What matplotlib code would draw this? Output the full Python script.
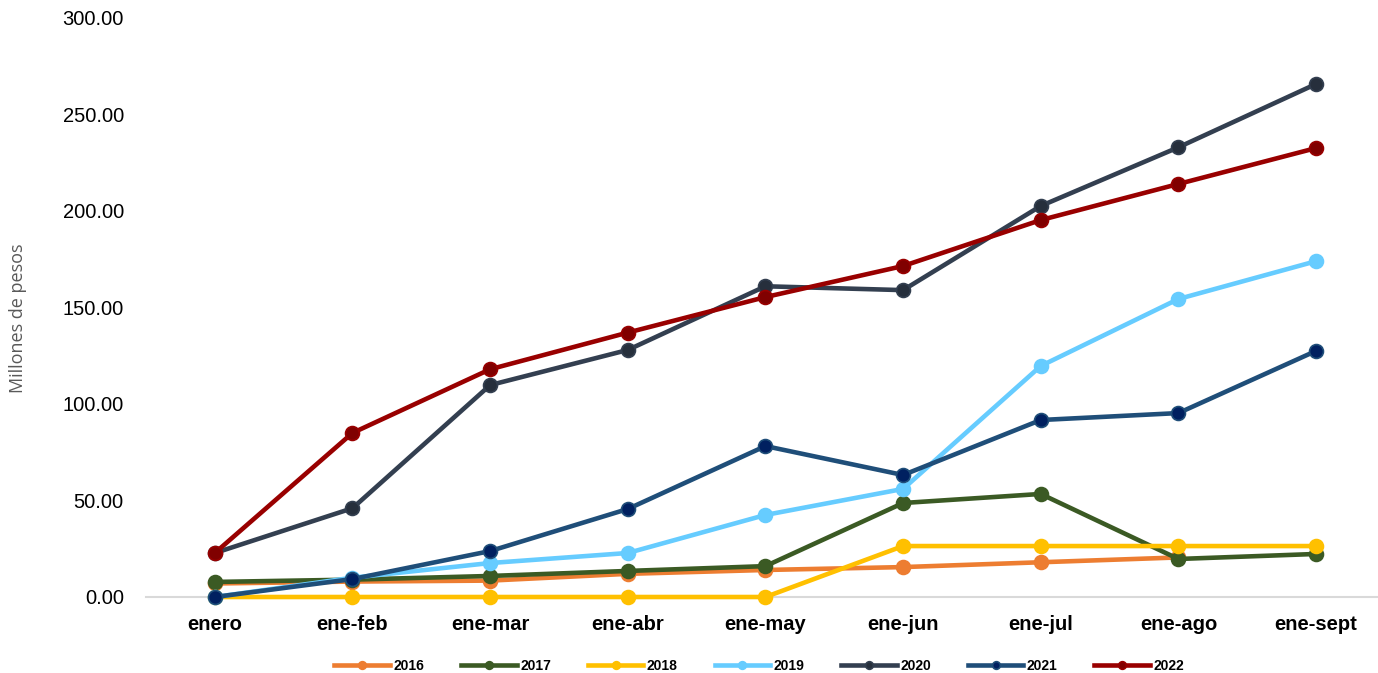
import numpy as np
import matplotlib.pyplot as plt

meses = ["enero", "ene-feb", "ene-mar", "ene-abr", "ene-may",
         "ene-jun", "ene-jul", "ene-ago", "ene-sept"]

v2016 = [7.0, 8.0, 8.5, 12.0, 14.0, 15.5, 18.0, 20.5, np.nan]
v2017 = [7.8, 9.0, 10.9, 13.5, 16.0, 48.7, 53.4, 19.7, 22.3]
v2018 = [0.0, 0.0, 0.0, 0.0, 0.0, 26.4, 26.4, 26.4, 26.4]
v2019 = [0.0, 10.0, 17.6, 22.8, 42.5, 56.0, 119.7, 154.4, 174.0]
v2020 = [22.8, 46.0, 109.8, 128.0, 161.0, 159.0, 202.6, 233.0, 265.8]
v2021 = [0.0, 9.3, 23.8, 45.6, 78.2, 63.2, 91.7, 95.3, 127.5]
v2022 = [22.8, 85.0, 118.0, 137.0, 155.4, 171.5, 195.3, 214.0, 232.6]

series = [
    ("2016", v2016, "#ED7D31", "#ED7D31"),
    ("2017", v2017, "#3B5A24", "#3B5A24"),
    ("2018", v2018, "#FFC000", "#FFC000"),
    ("2019", v2019, "#66CCFF", "#66CCFF"),
    ("2020", v2020, "#333F50", "#262F3C"),
    ("2021", v2021, "#1F4E79", "#002060"),
    ("2022", v2022, "#990000", "#800000"),
]

plt.rcParams["font.family"] = ["Liberation Sans", "DejaVu Sans"]

fig = plt.figure(figsize=(13.78, 6.73), dpi=100)
ax = fig.add_axes([146 / 1378, 1 - 597 / 673, 1 - 146 / 1378, (597 - 18) / 673])

x = np.arange(len(meses))
for name, vals, col, mfc in series:
    ax.plot(x, vals, color=col, lw=3.3, marker="o", ms=10,
            markerfacecolor=mfc, markeredgecolor=col, markeredgewidth=1.2,
            label=name, clip_on=False, zorder=3)

ax.set_xlim(-0.5, 8.45)
ax.set_ylim(0, 300)
ax.set_yticks(np.arange(0, 301, 50))
ax.set_yticklabels([f"{v:.2f}" for v in np.arange(0, 301, 50)], fontsize=14.5)
ax.set_xticks(x)
ax.set_xticklabels(meses, fontsize=14.5, fontweight="bold")
ax.tick_params(axis="both", length=0)
ax.tick_params(axis="y", pad=16)
ax.tick_params(axis="x", pad=13)

for s in ["top", "right", "left"]:
    ax.spines[s].set_visible(False)
ax.spines["bottom"].set_color("#D9D9D9")
ax.spines["bottom"].set_linewidth(1.5)

fig.text(18 / 1378, 1 - 318 / 673, "Millones de pesos", rotation=90,
         ha="center", va="center", fontsize=13, color="#595959",
         family=["Open Sans", "DejaVu Sans"])

leg = fig.legend(loc="center", bbox_to_anchor=(0.551, 1 - 666 / 673), ncol=7,
                 frameon=False, handlelength=4.0, columnspacing=2.65,
                 markerscale=0.55, prop={"size": 10, "weight": "bold"},
                 handletextpad=0.25)

fig.savefig("out.png", dpi=100)
